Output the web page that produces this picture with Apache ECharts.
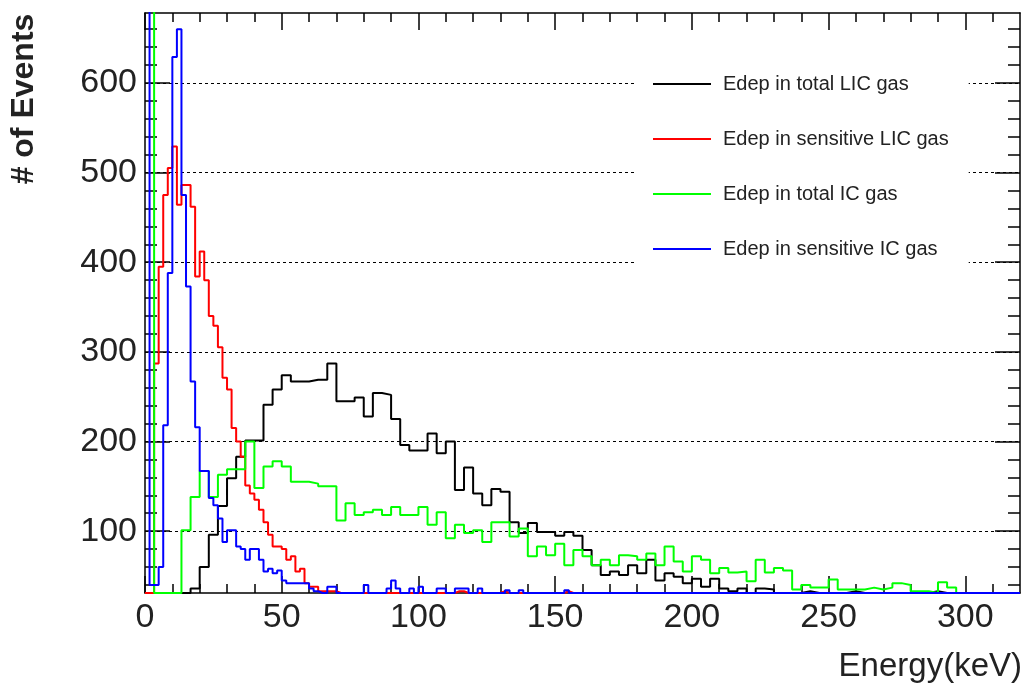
<!DOCTYPE html>
<html>
<head>
<meta charset="utf-8">
<title>Edep</title>
<script src="https://cdn.jsdelivr.net/npm/echarts@6/dist/echarts.min.js"></script>
<style>
  html, body { margin: 0; padding: 0; background: #fff; }
  #chart { width: 1027px; height: 691px; }
</style>
</head>
<body>
<div id="chart"></div>
<script>
// bin widths in keV (read from step widths)
const binTotal = 10 / 3;
const binSens = 5 / 3;

// Edep in total LIC gas, one value per 3.33 keV bin starting at 0 (96 bins)
const totalLIC = [0, 0, 0, 0, 0, 36, 60, 96, 128, 159, 183, 201, 201, 241, 258,
  274, 267, 267, 269, 269, 287, 245, 245, 249, 228, 254, 252, 225, 196, 190,
  190, 209, 187, 200, 146, 171, 142, 129, 147, 144, 110, 98, 109, 99, 99,
  95, 99, 95, 79, 62, 51, 55, 51, 62, 53, 68, 45, 53, 49, 42,
  47, 38, 47, 36, 33, 36, 0, 36, 35, 0, 25, 0, 33, 0, 0,
  0, 0, 33, 0, 0, 0, 0, 0, 0, 0, 0, 33, 0, 0, 0,
  0, 0, 0, 0, 0, 0];

// Edep in total IC gas, 3.33 keV bins (first bin runs off the top)
const totalIC = [1500, 0, 0, 0, 101, 138, 167, 138, 163, 169, 169, 200, 148, 172, 178,
  172, 155, 155, 153, 150, 150, 112, 131, 118, 121, 124, 118, 127, 118, 118,
  127, 107, 121, 92, 107, 98, 101, 88, 110, 110, 94, 103, 72, 83, 73,
  86, 62, 79, 72, 62, 68, 62, 73, 72, 68, 75, 62, 83, 66, 55,
  72, 68, 53, 59, 54, 55, 44, 68, 54, 59, 56, 35, 40, 37, 37,
  46, 35, 35, 35, 37, 35, 37, 42, 40, 33, 33, 0, 43, 37, 0,
  0, 0, 0, 0, 0, 0];

// Edep in sensitive LIC gas, 1.67 keV bins (192 bins)
const sensLIC = [
  0, 0, 287, 395, 475, 505, 529, 464, 486, 486, 462, 384, 412, 380, 340, 329,
  305, 271, 258, 215, 200, 183, 151, 142, 135, 124, 110, 96, 83, 83, 80, 68,
  72, 55, 58, 42, 38, 38, 33, 33, 33, 33, 0, 0, 0, 0, 0, 0,
  0, 0, 0, 0, 0, 0, 0, 0, 0, 0, 0, 0, 0, 0, 0, 0,
  0, 0, 0, 0, 33, 33, 0, 0, 0, 0, 0, 0, 0, 0, 33, 0,
  0, 0, 0, 0, 0, 0, 0, 0, 0, 0, 0, 0, 33, 0, 0, 0,
  0, 0, 0, 0, 0, 0, 0, 0, 0, 0, 0, 0, 0, 0, 0, 0,
  0, 0, 0, 0, 0, 0, 0, 0, 0, 0, 0, 0, 0, 0, 0, 0,
  0, 0, 0, 0, 0, 0, 0, 0, 0, 0, 0, 0, 0, 0, 0, 0,
  0, 0, 0, 0, 0, 0, 0, 0, 0, 0, 0, 0, 0, 0, 0, 0,
  0, 0, 0, 0, 0, 0, 0, 0, 0, 0, 0, 0, 0, 0, 0, 0,
  0, 0, 0, 0, 0, 0, 0, 0, 0, 0, 0, 0, 0, 0, 0, 0];

// Edep in sensitive IC gas, 1.67 keV bins (first bin runs off the top)
const sensIC = [
  1500, 40, 40, 60, 218, 388, 629, 660, 475, 373, 267, 216, 167, 167, 137, 129,
  114, 88, 101, 101, 83, 80, 68, 80, 80, 68, 55, 58, 53, 56, 45, 42,
  42, 42, 42, 42, 36, 33, 0, 0, 38, 38, 0, 0, 0, 0, 0, 0,
  40, 0, 0, 0, 0, 36, 45, 36, 0, 0, 36, 0, 38, 0, 0, 0,
  36, 36, 0, 0, 36, 36, 36, 0, 0, 36, 0, 0, 0, 0, 0, 34,
  0, 0, 34, 0, 0, 0, 0, 0, 0, 0, 0, 0, 34, 0, 0, 0,
  0, 0, 0, 0, 0, 0, 0, 0, 0, 0, 0, 0, 0, 0, 0, 0,
  0, 0, 0, 0, 0, 0, 0, 0, 0, 0, 0, 0, 0, 0, 0, 0,
  0, 0, 0, 0, 0, 0, 0, 0, 0, 0, 0, 0, 0, 0, 0, 0,
  0, 0, 0, 0, 0, 0, 0, 0, 0, 0, 0, 0, 0, 0, 0, 0,
  0, 0, 0, 0, 0, 0, 0, 0, 0, 0, 0, 0, 0, 0, 0, 0,
  0, 0, 0, 0, 0, 0, 0, 0, 0, 0, 0, 0, 0, 0, 0, 0];

// axis ticks
const xMajor = [0, 50, 100, 150, 200, 250, 300];
const xMinor = [10, 20, 30, 40, 60, 70, 80, 90, 110, 120, 130, 140, 160, 170, 180, 190,
  210, 220, 230, 240, 260, 270, 280, 290, 310];
const yMajor = [100, 200, 300, 400, 500, 600];
const yMinor = [40, 60, 80, 120, 140, 160, 180, 220, 240, 260, 280, 320, 340, 360, 380,
  420, 440, 460, 480, 520, 540, 560, 580, 620, 640, 660];

const xMin = 0, xMax = 320;
const yMin = 31, yMax = 678;

const FONT = "'Liberation Sans', Arial, sans-serif";

// histogram -> step points (left edge of every bin + closing right edge)
function toSteps(values, width) {
  const pts = values.map((v, i) => [i * width, Math.max(v, yMin)]);
  const last = values[values.length - 1];
  pts.push([values.length * width, Math.max(last, yMin)]);
  return pts;
}

function xAxisOf(position, ticks, len, withLine, withLabel) {
  return {
    type: "value", min: xMin, max: xMax, position: position,
    axisLine: { show: withLine, onZero: false, lineStyle: { color: "#000", width: 1.5 } },
    axisTick: { show: true, inside: true, length: len, customValues: ticks,
      lineStyle: { color: "#000", width: 1.5 } },
    axisLabel: withLabel
      ? { show: true, customValues: ticks, color: "#222", fontSize: 34, fontFamily: FONT, margin: 8 }
      : { show: false },
    splitLine: { show: false },
  };
}

function yAxisOf(position, ticks, len, withLine, withLabel, withGrid) {
  return {
    type: "value", min: yMin, max: yMax, position: position,
    axisLine: { show: withLine, onZero: false, lineStyle: { color: "#000", width: 1.5 } },
    axisTick: { show: true, inside: true, length: len, customValues: ticks,
      lineStyle: { color: "#000", width: 1.5 } },
    axisLabel: withLabel
      ? { show: true, customValues: ticks, color: "#222", fontSize: 34, fontFamily: FONT, margin: 8 }
      : { show: false },
    splitLine: { show: withGrid, lineStyle: { color: "#000", width: 1, type: [3, 3] } },
  };
}

const chart = echarts.init(document.getElementById("chart"));

const seriesDefs = [
  { name: "Edep in total LIC gas", color: "#000000", values: totalLIC, width: binTotal },
  { name: "Edep in sensitive LIC gas", color: "#ff0000", values: sensLIC, width: binSens },
  { name: "Edep in total IC gas", color: "#00ff00", values: totalIC, width: binTotal },
  { name: "Edep in sensitive IC gas", color: "#0000ff", values: sensIC, width: binSens },
];

chart.setOption({
  animation: false,
  backgroundColor: "#fff",
  grid: { left: 145, right: 7, top: 13, bottom: 98, containLabel: false },
  xAxis: [
    xAxisOf("bottom", xMajor, 17, true, true),
    xAxisOf("bottom", xMinor, 9, false, false),
    xAxisOf("top", xMajor, 17, true, false),
    xAxisOf("top", xMinor, 9, false, false),
  ],
  yAxis: [
    yAxisOf("left", yMajor, 25, true, true, true),
    yAxisOf("left", yMinor, 12, false, false, false),
    yAxisOf("right", yMajor, 25, true, false, false),
    yAxisOf("right", yMinor, 12, false, false, false),
  ],
  legend: {
    orient: "vertical",
    left: 637, top: 58,
    padding: [16, 20, 30, 16],
    backgroundColor: "#fff",
    itemWidth: 58, itemHeight: 14, itemGap: 35,
    icon: "path://M0,6h58v2h-58z",
    textStyle: { fontSize: 20, fontFamily: FONT, color: "#222", padding: [0, 0, 0, 7] },
    data: seriesDefs.map((s) => s.name),
  },
  series: seriesDefs.map((s) => ({
    name: s.name,
    type: "line",
    step: "end",
    symbol: "none",
    clip: true,
    xAxisIndex: 0,
    yAxisIndex: 0,
    color: s.color,
    lineStyle: { color: s.color, width: 2 },
    data: toSteps(s.values, s.width),
  })),
  graphic: [
    { type: "text", x: 24, y: 99, rotation: Math.PI / 2,
      style: { text: "# of Events", font: "bold 32px " + FONT, fill: "#222",
        align: "center", verticalAlign: "middle" } },
    { type: "text", x: 1022, y: 667,
      style: { text: "Energy(keV)", font: "33px " + FONT, fill: "#222",
        align: "right", verticalAlign: "middle" } },
  ],
});
</script>
</body>
</html>
